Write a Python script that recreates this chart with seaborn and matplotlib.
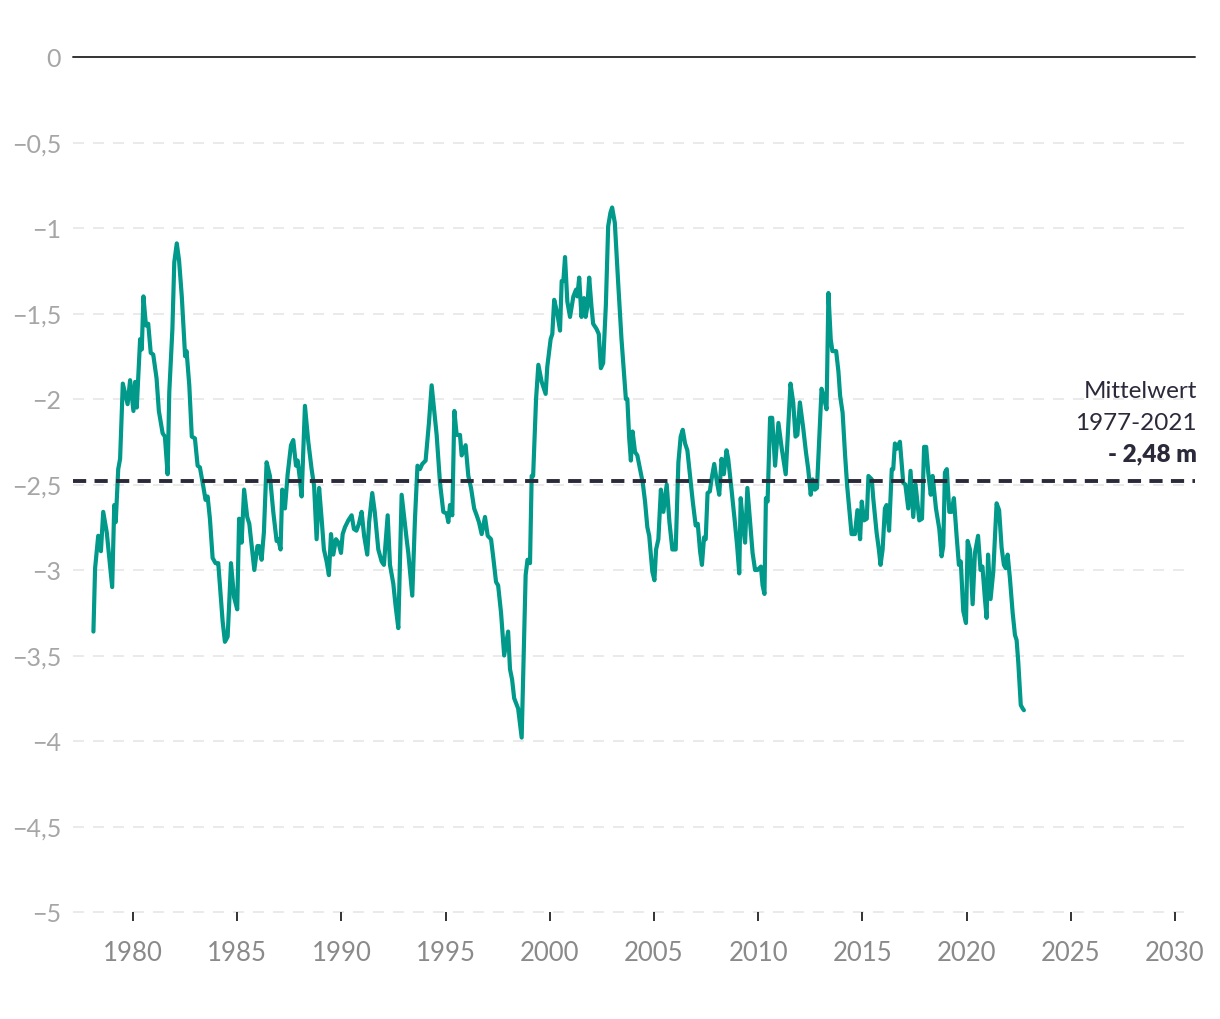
import matplotlib
matplotlib.use("Agg")
import matplotlib.pyplot as plt
from matplotlib.ticker import FixedLocator, FuncFormatter
import seaborn as sns
import pandas as pd

# Grundwasserstand (m unter Gelaende)
years = [
    1978.10, 1978.18, 1978.33, 1978.46, 1978.57, 1978.74, 1979.00, 1979.10, 1979.17, 1979.29,
    1979.38, 1979.51, 1979.74, 1979.86, 1980.02, 1980.10, 1980.18, 1980.34, 1980.42, 1980.50,
    1980.62, 1980.73, 1980.85, 1980.97, 1981.13, 1981.24, 1981.42, 1981.53, 1981.66, 1981.74,
    1981.89, 1981.98, 1982.10, 1982.21, 1982.34, 1982.50, 1982.57, 1982.70, 1982.82, 1982.97,
    1983.10, 1983.21, 1983.37, 1983.48, 1983.58, 1983.69, 1983.82, 1983.96, 1984.09, 1984.17,
    1984.30, 1984.41, 1984.54, 1984.61, 1984.70, 1984.85, 1985.00, 1985.09, 1985.21, 1985.33,
    1985.48, 1985.58, 1985.82, 1985.97, 1986.05, 1986.17, 1986.28, 1986.41, 1986.57, 1986.73,
    1986.89, 1986.97, 1987.08, 1987.16, 1987.29, 1987.42, 1987.58, 1987.69, 1987.82, 1987.90,
    1988.01, 1988.09, 1988.25, 1988.41, 1988.57, 1988.69, 1988.81, 1988.93, 1989.05, 1989.16,
    1989.29, 1989.40, 1989.50, 1989.61, 1989.74, 1989.86, 1989.98, 1990.06, 1990.17, 1990.33,
    1990.49, 1990.60, 1990.72, 1990.84, 1990.97, 1991.09, 1991.24, 1991.33, 1991.48, 1991.60,
    1991.77, 1991.93, 1992.04, 1992.22, 1992.33, 1992.49, 1992.60, 1992.73, 1992.89, 1993.13,
    1993.21, 1993.40, 1993.53, 1993.65, 1993.77, 1993.88, 1994.04, 1994.20, 1994.33, 1994.57,
    1994.73, 1994.89, 1995.05, 1995.13, 1995.21, 1995.32, 1995.42, 1995.53, 1995.69, 1995.77,
    1995.96, 1996.09, 1996.22, 1996.37, 1996.49, 1996.60, 1996.73, 1996.89, 1997.02, 1997.18,
    1997.28, 1997.42, 1997.52, 1997.66, 1997.81, 1998.00, 1998.09, 1998.19, 1998.29, 1998.48,
    1998.65, 1998.84, 1998.93, 1999.05, 1999.13, 1999.20, 1999.34, 1999.45, 1999.61, 1999.80,
    1999.88, 2000.04, 2000.12, 2000.21, 2000.36, 2000.49, 2000.57, 2000.65, 2000.73, 2000.84,
    2000.97, 2001.13, 2001.26, 2001.32, 2001.41, 2001.52, 2001.64, 2001.72, 2001.80, 2001.89,
    2002.00, 2002.08, 2002.24, 2002.35, 2002.45, 2002.56, 2002.69, 2002.80, 2002.91, 2002.99,
    2003.12, 2003.28, 2003.44, 2003.65, 2003.72, 2003.81, 2003.89, 2003.97, 2004.09, 2004.20,
    2004.33, 2004.46, 2004.57, 2004.68, 2004.77, 2004.92, 2005.02, 2005.10, 2005.21, 2005.33,
    2005.45, 2005.61, 2005.74, 2005.88, 2006.04, 2006.17, 2006.28, 2006.38, 2006.49, 2006.60,
    2006.73, 2006.86, 2007.00, 2007.10, 2007.21, 2007.30, 2007.40, 2007.48, 2007.57, 2007.68,
    2007.76, 2007.89, 2008.00, 2008.13, 2008.24, 2008.35, 2008.48, 2008.56, 2008.72, 2008.88,
    2008.99, 2009.09, 2009.16, 2009.29, 2009.37, 2009.48, 2009.61, 2009.73, 2009.85, 2009.96,
    2010.05, 2010.13, 2010.21, 2010.30, 2010.37, 2010.45, 2010.57, 2010.67, 2010.81, 2010.97,
    2011.13, 2011.32, 2011.44, 2011.55, 2011.68, 2011.79, 2011.88, 2012.00, 2012.16, 2012.29,
    2012.40, 2012.52, 2012.61, 2012.72, 2012.82, 2013.04, 2013.17, 2013.28, 2013.37, 2013.48,
    2013.56, 2013.74, 2013.85, 2013.93, 2014.05, 2014.17, 2014.27, 2014.40, 2014.48, 2014.64,
    2014.76, 2014.89, 2014.97, 2015.08, 2015.21, 2015.29, 2015.45, 2015.52, 2015.68, 2015.79,
    2015.87, 2015.97, 2016.08, 2016.16, 2016.28, 2016.41, 2016.48, 2016.56, 2016.67, 2016.80,
    2016.96, 2017.06, 2017.20, 2017.31, 2017.44, 2017.55, 2017.73, 2017.86, 2017.96, 2018.06,
    2018.16, 2018.28, 2018.37, 2018.53, 2018.69, 2018.80, 2018.88, 2018.96, 2019.05, 2019.17,
    2019.28, 2019.39, 2019.52, 2019.63, 2019.72, 2019.84, 2019.97, 2020.05, 2020.16, 2020.29,
    2020.40, 2020.55, 2020.67, 2020.76, 2020.88, 2020.96, 2021.03, 2021.15, 2021.28, 2021.44,
    2021.56, 2021.68, 2021.79, 2021.88, 2021.97, 2022.08, 2022.21, 2022.32, 2022.40, 2022.48,
    2022.60, 2022.69, 2022.75,
]
levels = [
    -3.36, -2.99, -2.80, -2.89, -2.66, -2.78, -3.10, -2.62, -2.72, -2.41,
    -2.35, -1.91, -2.03, -1.89, -2.07, -1.90, -2.05, -1.65, -1.71, -1.40,
    -1.57, -1.56, -1.73, -1.74, -1.88, -2.07, -2.20, -2.22, -2.44, -1.96,
    -1.59, -1.20, -1.09, -1.19, -1.40, -1.75, -1.72, -1.92, -2.22, -2.23,
    -2.39, -2.40, -2.51, -2.59, -2.57, -2.70, -2.93, -2.96, -2.96, -3.09,
    -3.30, -3.42, -3.39, -3.21, -2.96, -3.16, -3.23, -2.70, -2.84, -2.53,
    -2.69, -2.73, -3.00, -2.86, -2.86, -2.94, -2.78, -2.37, -2.45, -2.66,
    -2.83, -2.82, -2.88, -2.53, -2.64, -2.44, -2.27, -2.24, -2.39, -2.36,
    -2.47, -2.57, -2.04, -2.25, -2.41, -2.51, -2.82, -2.52, -2.70, -2.88,
    -2.95, -3.03, -2.79, -2.91, -2.82, -2.84, -2.90, -2.79, -2.75, -2.71,
    -2.68, -2.76, -2.77, -2.73, -2.66, -2.80, -2.91, -2.72, -2.55, -2.66,
    -2.88, -2.95, -2.97, -2.68, -2.97, -3.08, -3.21, -3.34, -2.56, -2.82,
    -2.90, -3.15, -2.70, -2.39, -2.41, -2.38, -2.36, -2.14, -1.92, -2.21,
    -2.49, -2.66, -2.67, -2.72, -2.62, -2.68, -2.07, -2.21, -2.21, -2.33,
    -2.27, -2.45, -2.52, -2.64, -2.68, -2.72, -2.79, -2.69, -2.80, -2.82,
    -2.92, -3.07, -3.09, -3.25, -3.50, -3.36, -3.58, -3.64, -3.75, -3.81,
    -3.98, -3.03, -2.94, -2.96, -2.45, -2.45, -2.00, -1.80, -1.90, -1.97,
    -1.81, -1.65, -1.62, -1.42, -1.50, -1.60, -1.31, -1.31, -1.17, -1.43,
    -1.52, -1.40, -1.36, -1.40, -1.29, -1.52, -1.41, -1.52, -1.46, -1.29,
    -1.46, -1.56, -1.59, -1.62, -1.82, -1.79, -1.45, -0.99, -0.91, -0.88,
    -0.97, -1.32, -1.65, -2.00, -2.00, -2.23, -2.36, -2.19, -2.31, -2.33,
    -2.41, -2.49, -2.60, -2.75, -2.80, -3.01, -3.06, -2.88, -2.82, -2.53,
    -2.66, -2.50, -2.72, -2.88, -2.88, -2.37, -2.22, -2.18, -2.26, -2.30,
    -2.45, -2.60, -2.74, -2.73, -2.89, -2.97, -2.81, -2.82, -2.55, -2.54,
    -2.47, -2.38, -2.47, -2.56, -2.35, -2.44, -2.30, -2.35, -2.53, -2.72,
    -2.86, -3.02, -2.58, -2.76, -2.84, -2.52, -2.72, -2.90, -3.00, -3.00,
    -2.99, -2.98, -3.09, -3.14, -2.58, -2.60, -2.11, -2.11, -2.39, -2.14,
    -2.29, -2.44, -2.16, -1.91, -2.02, -2.22, -2.21, -2.02, -2.17, -2.31,
    -2.41, -2.56, -2.47, -2.53, -2.52, -1.94, -2.00, -2.06, -1.38, -1.65,
    -1.72, -1.72, -1.84, -1.98, -2.08, -2.33, -2.51, -2.68, -2.79, -2.79,
    -2.65, -2.82, -2.60, -2.71, -2.70, -2.45, -2.47, -2.58, -2.78, -2.88,
    -2.97, -2.88, -2.64, -2.62, -2.77, -2.41, -2.41, -2.26, -2.29, -2.25,
    -2.49, -2.50, -2.64, -2.42, -2.69, -2.50, -2.71, -2.70, -2.28, -2.28,
    -2.43, -2.56, -2.45, -2.64, -2.76, -2.92, -2.86, -2.43, -2.41, -2.66,
    -2.66, -2.58, -2.80, -2.97, -2.95, -3.24, -3.31, -2.83, -2.88, -3.20,
    -2.90, -2.80, -3.00, -2.98, -3.17, -3.28, -2.91, -3.17, -3.01, -2.61,
    -2.65, -2.87, -2.97, -2.99, -2.91, -3.05, -3.25, -3.38, -3.41, -3.54,
    -3.79, -3.81, -3.82,
]

mean_level = -2.48
y_ticks = [0, -0.5, -1, -1.5, -2, -2.5, -3, -3.5, -4, -4.5, -5]
x_ticks = [1980, 1985, 1990, 1995, 2000, 2005, 2010, 2015, 2020, 2025, 2030]

TEAL = "#00998a"
DARK = "#2b2a3a"

df = pd.DataFrame({"year": years, "level": levels})

sns.set_theme(style="white")
plt.rcParams["font.family"] = ["Lato", "DejaVu Sans"]
plt.rcParams["lines.scale_dashes"] = False

fig = plt.figure(figsize=(12.2, 10.2), dpi=100)
ax = fig.add_axes([73 / 1220, 1 - 913 / 1020, 1122 / 1220, 855 / 1020])

# gestrichelte Hilfslinien
for v in y_ticks[1:]:
    ax.axhline(v, xmax=0.99, color="#e4e4e4", lw=1.1, ls=(0, (7.9, 6.5)),
               zorder=0, clip_on=False)
ax.axhline(0, color="#333333", lw=1.4, zorder=1, clip_on=False)

sns.lineplot(data=df, x="year", y="level", ax=ax, color=TEAL, lw=3.0,
             estimator=None, zorder=3)

ax.axhline(mean_level, color=DARK, lw=2.8, ls=(0, (9.5, 6.0)), zorder=4)

ax.set_xlim(1977.12, 2030.96)
ax.set_ylim(-5, 0)
ax.set_xlabel("")
ax.set_ylabel("")

for s in ax.spines.values():
    s.set_visible(False)

ax.xaxis.set_major_locator(FixedLocator(x_ticks))
ax.yaxis.set_major_locator(FixedLocator(y_ticks))


def fmt_y(v, pos):
    if v == 0:
        return "0"
    txt = f"{abs(v):g}".replace(".", ",")
    return "\u2212" + txt


ax.yaxis.set_major_formatter(FuncFormatter(fmt_y))
ax.tick_params(axis="x", bottom=True, direction="out", length=6.5, width=1.4,
               color="#333333", labelsize=18.5, labelcolor="#8a8a8a", pad=14)
ax.tick_params(axis="y", left=False, length=0, labelsize=18,
               labelcolor="#a6a6a6", pad=8.5)

# Beschriftung Mittelwert
fig.text(1197 / 1220, 1 - 392 / 1020, "Mittelwert", ha="right", va="center",
         fontsize=17.5, color=DARK)
fig.text(1197 / 1220, 1 - 424 / 1020, "1977-2021", ha="right", va="center",
         fontsize=17.5, color=DARK)
fig.text(1197 / 1220, 1 - 454 / 1020, "- 2,48 m", ha="right", va="center",
         fontsize=17.5, color=DARK, fontweight="heavy")

fig.savefig("out.png", dpi=100, facecolor="white")
